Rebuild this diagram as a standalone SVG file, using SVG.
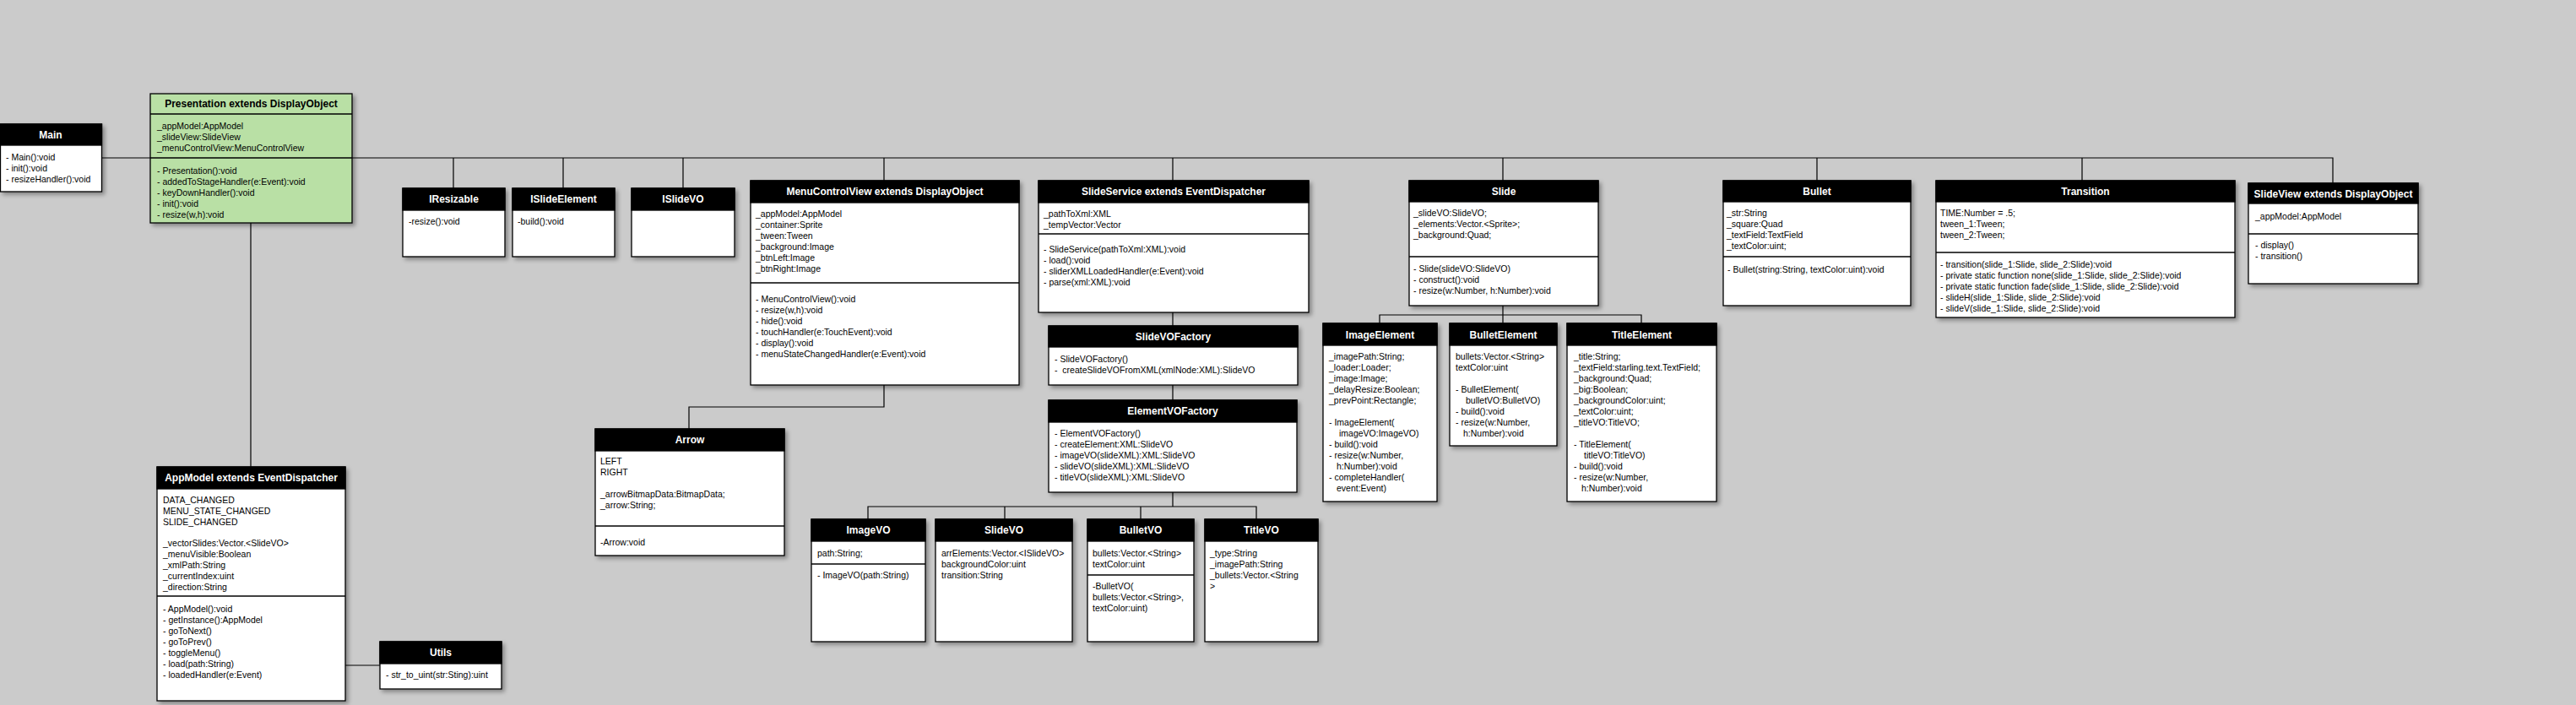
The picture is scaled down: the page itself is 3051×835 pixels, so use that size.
<svg xmlns="http://www.w3.org/2000/svg" width="3051" height="835" viewBox="0 0 3051 835">
<defs>
<filter id="sh" x="-10%" y="-10%" width="130%" height="130%">
<feDropShadow dx="3" dy="3" stdDeviation="2.5" flood-color="#000" flood-opacity="0.35"/>
</filter>
</defs>
<style>
.bg{fill:#cbcbcb}
.b{fill:#ffffff;stroke:#000;stroke-width:1.3}
.g{fill:#b9e0a5;stroke:#000;stroke-width:1.3}
.h{fill:#000;stroke:#000;stroke-width:1.3}
.s{stroke:#000;stroke-width:1.3}
.t{font-family:"Liberation Sans",Arial,sans-serif;font-size:12px;font-weight:bold;fill:#fff;text-anchor:middle}
.tg{font-family:"Liberation Sans",Arial,sans-serif;font-size:12px;font-weight:bold;fill:#000;text-anchor:middle}
.x{font-family:"Liberation Sans",Arial,sans-serif;font-size:10.5px;fill:#000}
.c{fill:none;stroke:#000;stroke-width:1.2}
</style>
<rect class="bg" x="0" y="0" width="3051" height="835"/>

<g id="connectors">
<path class="c" d="M120 187H178"/>
<path class="c" d="M417 187H2763V217"/>
<path class="c" d="M537 187V223M667 187V223M809 187V223M1047 187V214M1389 187V214M1780 187V214M2152 187V214M2466 187V214"/>
<path class="c" d="M297 264V553"/>
<path class="c" d="M409 788H450"/>
<path class="c" d="M1047 456V482H816V508"/>
<path class="c" d="M1389 370V386M1389 456V474M1389 583V600"/>
<path class="c" d="M1028 615V600H1488V615M1190 600V615M1351 600V615"/>
<path class="c" d="M1780 362V373M1634 383V373H1944V383M1780 373V383"/>
</g>

<g id="Main">
<rect class="b" x="0.5" y="147" width="120" height="80" filter="url(#sh)"/>
<rect class="h" x="0.5" y="147" width="120" height="25"/>
<text class="t" x="60" y="164">Main</text>
<text class="x"><tspan x="7" y="190">- Main():void</tspan><tspan x="7" dy="13">- init():void</tspan><tspan x="7" dy="13">- resizeHandler():void</tspan></text>
</g>

<g id="Presentation">
<rect class="g" x="178" y="111" width="239" height="153" filter="url(#sh)"/>
<line class="s" x1="178" y1="135" x2="417" y2="135"/>
<line class="s" x1="178" y1="187" x2="417" y2="187"/>
<text class="tg" x="297.5" y="127">Presentation extends DisplayObject</text>
<text class="x"><tspan x="186" y="153">_appModel:AppModel</tspan><tspan x="186" dy="13">_slideView:SlideView</tspan><tspan x="186" dy="13">_menuControlView:MenuControlView</tspan></text>
<text class="x"><tspan x="186" y="206">- Presentation():void</tspan><tspan x="186" dy="13">- addedToStageHandler(e:Event):void</tspan><tspan x="186" dy="13">- keyDownHandler():void</tspan><tspan x="186" dy="13">- init():void</tspan><tspan x="186" dy="13">- resize(w,h):void</tspan></text>
</g>

<g id="AppModel">
<rect class="b" x="186" y="553" width="223" height="277" filter="url(#sh)"/>
<rect class="h" x="186" y="553" width="223" height="26"/>
<line class="s" x1="186" y1="706" x2="409" y2="706"/>
<text class="t" x="297.5" y="570">AppModel extends EventDispatcher</text>
<text class="x"><tspan x="193" y="596">DATA_CHANGED</tspan><tspan x="193" dy="13">MENU_STATE_CHANGED</tspan><tspan x="193" dy="13">SLIDE_CHANGED</tspan><tspan x="193" dy="25">_vectorSlides:Vector.&lt;SlideVO&gt;</tspan><tspan x="193" dy="13">_menuVisible:Boolean</tspan><tspan x="193" dy="13">_xmlPath:String</tspan><tspan x="193" dy="13">_currentIndex:uint</tspan><tspan x="193" dy="13">_direction:String</tspan></text>
<text class="x"><tspan x="193" y="725">- AppModel():void</tspan><tspan x="193" dy="13">- getInstance():AppModel</tspan><tspan x="193" dy="13">- goToNext()</tspan><tspan x="193" dy="13">- goToPrev()</tspan><tspan x="193" dy="13">- toggleMenu()</tspan><tspan x="193" dy="13">- load(path:String)</tspan><tspan x="193" dy="13">- loadedHandler(e:Event)</tspan></text>
</g>

<g id="Utils">
<rect class="b" x="450" y="760" width="144" height="56" filter="url(#sh)"/>
<rect class="h" x="450" y="760" width="144" height="26"/>
<text class="t" x="522" y="777">Utils</text>
<text class="x" x="457" y="803">- str_to_uint(str:Sting):uint</text>
</g>

<g id="IResizable">
<rect class="b" x="477" y="223" width="121" height="81" filter="url(#sh)"/>
<rect class="h" x="477" y="223" width="121" height="26"/>
<text class="t" x="537.5" y="240">IResizable</text>
<text class="x" x="484" y="266">-resize():void</text>
</g>

<g id="ISlideElement">
<rect class="b" x="607" y="223" width="121" height="81" filter="url(#sh)"/>
<rect class="h" x="607" y="223" width="121" height="26"/>
<text class="t" x="667.5" y="240">ISlideElement</text>
<text class="x" x="613" y="266">-build():void</text>
</g>

<g id="ISlideVO">
<rect class="b" x="748" y="223" width="122" height="81" filter="url(#sh)"/>
<rect class="h" x="748" y="223" width="122" height="26"/>
<text class="t" x="809" y="240">ISlideVO</text>
</g>

<g id="MenuControlView">
<rect class="b" x="889" y="214" width="318" height="242" filter="url(#sh)"/>
<rect class="h" x="889" y="214" width="318" height="26"/>
<line class="s" x1="889" y1="335" x2="1207" y2="335"/>
<text class="t" x="1048" y="231">MenuControlView extends DisplayObject</text>
<text class="x"><tspan x="895" y="257">_appModel:AppModel</tspan><tspan x="895" dy="13">_container:Sprite</tspan><tspan x="895" dy="13">_tween:Tween</tspan><tspan x="895" dy="13">_background:Image</tspan><tspan x="895" dy="13">_btnLeft:Image</tspan><tspan x="895" dy="13">_btnRight:Image</tspan></text>
<text class="x"><tspan x="895" y="358">- MenuControlView():void</tspan><tspan x="895" dy="13">- resize(w,h):void</tspan><tspan x="895" dy="13">- hide():void</tspan><tspan x="895" dy="13">- touchHandler(e:TouchEvent):void</tspan><tspan x="895" dy="13">- display():void</tspan><tspan x="895" dy="13">- menuStateChangedHandler(e:Event):void</tspan></text>
</g>

<g id="Arrow">
<rect class="b" x="705" y="508" width="224" height="150" filter="url(#sh)"/>
<rect class="h" x="705" y="508" width="224" height="26"/>
<line class="s" x1="705" y1="623" x2="929" y2="623"/>
<text class="t" x="817" y="525">Arrow</text>
<text class="x"><tspan x="711" y="550">LEFT</tspan><tspan x="711" dy="13">RIGHT</tspan><tspan x="711" dy="26">_arrowBitmapData:BitmapData;</tspan><tspan x="711" dy="13">_arrow:String;</tspan></text>
<text class="x" x="711" y="646">-Arrow:void</text>
</g>

<g id="SlideService">
<rect class="b" x="1230" y="214" width="320" height="156" filter="url(#sh)"/>
<rect class="h" x="1230" y="214" width="320" height="26"/>
<line class="s" x1="1230" y1="277" x2="1550" y2="277"/>
<text class="t" x="1390" y="231">SlideService extends EventDispatcher</text>
<text class="x"><tspan x="1236" y="257">_pathToXml:XML</tspan><tspan x="1236" dy="13">_tempVector:Vector</tspan></text>
<text class="x"><tspan x="1236" y="299">- SlideService(pathToXml:XML):void</tspan><tspan x="1236" dy="13">- load():void</tspan><tspan x="1236" dy="13">- sliderXMLLoadedHandler(e:Event):void</tspan><tspan x="1236" dy="13">- parse(xml:XML):void</tspan></text>
</g>

<g id="SlideVOFactory">
<rect class="b" x="1242" y="386" width="295" height="70" filter="url(#sh)"/>
<rect class="h" x="1242" y="386" width="295" height="25"/>
<text class="t" x="1389.5" y="403">SlideVOFactory</text>
<text class="x"><tspan x="1249" y="429">- SlideVOFactory()</tspan><tspan x="1249" dy="13" xml:space="preserve">-  createSlideVOFromXML(xmlNode:XML):SlideVO</tspan></text>
</g>

<g id="ElementVOFactory">
<rect class="b" x="1242" y="474" width="294" height="109" filter="url(#sh)"/>
<rect class="h" x="1242" y="474" width="294" height="26"/>
<text class="t" x="1389" y="491">ElementVOFactory</text>
<text class="x"><tspan x="1249" y="517">- ElementVOFactory()</tspan><tspan x="1249" dy="13">- createElement:XML:SlideVO</tspan><tspan x="1249" dy="13">- imageVO(slideXML):XML:SlideVO</tspan><tspan x="1249" dy="13">- slideVO(slideXML):XML:SlideVO</tspan><tspan x="1249" dy="13">- titleVO(slideXML):XML:SlideVO</tspan></text>
</g>

<g id="ImageVO">
<rect class="b" x="961" y="615" width="135" height="145" filter="url(#sh)"/>
<rect class="h" x="961" y="615" width="135" height="26"/>
<line class="s" x1="961" y1="668" x2="1096" y2="668"/>
<text class="t" x="1028.5" y="632">ImageVO</text>
<text class="x" x="968" y="659">path:String;</text>
<text class="x" x="968" y="685">- ImageVO(path:String)</text>
</g>

<g id="SlideVO">
<rect class="b" x="1108" y="615" width="162" height="145" filter="url(#sh)"/>
<rect class="h" x="1108" y="615" width="162" height="26"/>
<text class="t" x="1189" y="632">SlideVO</text>
<text class="x"><tspan x="1115" y="659">arrElements:Vector.&lt;ISlideVO&gt;</tspan><tspan x="1115" dy="13">backgroundColor:uint</tspan><tspan x="1115" dy="13">transition:String</tspan></text>
</g>

<g id="BulletVO">
<rect class="b" x="1288" y="615" width="126" height="145" filter="url(#sh)"/>
<rect class="h" x="1288" y="615" width="126" height="26"/>
<line class="s" x1="1288" y1="681" x2="1414" y2="681"/>
<text class="t" x="1351" y="632">BulletVO</text>
<text class="x"><tspan x="1294" y="659">bullets:Vector.&lt;String&gt;</tspan><tspan x="1294" dy="13">textColor:uint</tspan></text>
<text class="x"><tspan x="1294" y="698">-BulletVO(</tspan><tspan x="1294" dy="13">bullets:Vector.&lt;String&gt;,</tspan><tspan x="1294" dy="13">textColor:uint)</tspan></text>
</g>

<g id="TitleVO">
<rect class="b" x="1427" y="615" width="134" height="145" filter="url(#sh)"/>
<rect class="h" x="1427" y="615" width="134" height="26"/>
<text class="t" x="1494" y="632">TitleVO</text>
<text class="x"><tspan x="1433" y="659">_type:String</tspan><tspan x="1433" dy="13">_imagePath:String</tspan><tspan x="1433" dy="13">_bullets:Vector.&lt;String</tspan><tspan x="1433" dy="13">&gt;</tspan></text>
</g>

<g id="Slide">
<rect class="b" x="1669" y="214" width="224" height="148" filter="url(#sh)"/>
<rect class="h" x="1669" y="214" width="224" height="25"/>
<line class="s" x1="1669" y1="304" x2="1893" y2="304"/>
<text class="t" x="1781" y="231">Slide</text>
<text class="x"><tspan x="1674" y="256">_slideVO:SlideVO;</tspan><tspan x="1674" dy="13">_elements:Vector.&lt;Sprite&gt;;</tspan><tspan x="1674" dy="13">_background:Quad;</tspan></text>
<text class="x"><tspan x="1674" y="322">- Slide(slideVO:SlideVO)</tspan><tspan x="1674" dy="13">- construct():void</tspan><tspan x="1674" dy="13">- resize(w:Number, h:Number):void</tspan></text>
</g>

<g id="ImageElement">
<rect class="b" x="1567" y="383" width="135" height="211" filter="url(#sh)"/>
<rect class="h" x="1567" y="383" width="135" height="26"/>
<text class="t" x="1634.5" y="401">ImageElement</text>
<text class="x"><tspan x="1574" y="426">_imagePath:String;</tspan><tspan x="1574" dy="13">_loader:Loader;</tspan><tspan x="1574" dy="13">_image:Image;</tspan><tspan x="1574" dy="13">_delayResize:Boolean;</tspan><tspan x="1574" dy="13">_prevPoint:Rectangle;</tspan><tspan x="1574" dy="26">- ImageElement(</tspan><tspan x="1586" dy="13">imageVO:ImageVO)</tspan><tspan x="1574" dy="13">- build():void</tspan><tspan x="1574" dy="13">- resize(w:Number,</tspan><tspan x="1583" dy="13">h:Number):void</tspan><tspan x="1574" dy="13">- completeHandler(</tspan><tspan x="1583" dy="13">event:Event)</tspan></text>
</g>

<g id="BulletElement">
<rect class="b" x="1717" y="383" width="127" height="145" filter="url(#sh)"/>
<rect class="h" x="1717" y="383" width="127" height="26"/>
<text class="t" x="1780.5" y="401">BulletElement</text>
<text class="x"><tspan x="1724" y="426">bullets:Vector.&lt;String&gt;</tspan><tspan x="1724" dy="13">textColor:uint</tspan><tspan x="1724" dy="26">- BulletElement(</tspan><tspan x="1736" dy="13">bulletVO:BulletVO)</tspan><tspan x="1724" dy="13">- build():void</tspan><tspan x="1724" dy="13">- resize(w:Number,</tspan><tspan x="1733" dy="13">h:Number):void</tspan></text>
</g>

<g id="TitleElement">
<rect class="b" x="1856" y="383" width="177" height="211" filter="url(#sh)"/>
<rect class="h" x="1856" y="383" width="177" height="26"/>
<text class="t" x="1944.5" y="401">TitleElement</text>
<text class="x"><tspan x="1864" y="426">_title:String;</tspan><tspan x="1864" dy="13">_textField:starling.text.TextField;</tspan><tspan x="1864" dy="13">_background:Quad;</tspan><tspan x="1864" dy="13">_big:Boolean;</tspan><tspan x="1864" dy="13">_backgroundColor:uint;</tspan><tspan x="1864" dy="13">_textColor:uint;</tspan><tspan x="1864" dy="13">_titleVO:TitleVO;</tspan><tspan x="1864" dy="26">- TitleElement(</tspan><tspan x="1876" dy="13">titleVO:TitleVO)</tspan><tspan x="1864" dy="13">- build():void</tspan><tspan x="1864" dy="13">- resize(w:Number,</tspan><tspan x="1873" dy="13">h:Number):void</tspan></text>
</g>

<g id="Bullet">
<rect class="b" x="2041" y="214" width="222" height="148" filter="url(#sh)"/>
<rect class="h" x="2041" y="214" width="222" height="25"/>
<line class="s" x1="2041" y1="304" x2="2263" y2="304"/>
<text class="t" x="2152" y="231">Bullet</text>
<text class="x"><tspan x="2045" y="256">_str:String</tspan><tspan x="2045" dy="13">_square:Quad</tspan><tspan x="2045" dy="13">_textField:TextField</tspan><tspan x="2045" dy="13">_textColor:uint;</tspan></text>
<text class="x" x="2046" y="323">- Bullet(string:String, textColor:uint):void</text>
</g>

<g id="Transition">
<rect class="b" x="2293" y="214" width="354" height="162" filter="url(#sh)"/>
<rect class="h" x="2293" y="214" width="354" height="25"/>
<line class="s" x1="2293" y1="299" x2="2647" y2="299"/>
<text class="t" x="2470" y="231">Transition</text>
<text class="x"><tspan x="2298" y="256">TIME:Number = .5;</tspan><tspan x="2298" dy="13">tween_1:Tween;</tspan><tspan x="2298" dy="13">tween_2:Tween;</tspan></text>
<text class="x"><tspan x="2298" y="317">- transition(slide_1:Slide, slide_2:Slide):void</tspan><tspan x="2298" dy="13">- private static function none(slide_1:Slide, slide_2:Slide):void</tspan><tspan x="2298" dy="13">- private static function fade(slide_1:Slide, slide_2:Slide):void</tspan><tspan x="2298" dy="13">- slideH(slide_1:Slide, slide_2:Slide):void</tspan><tspan x="2298" dy="13">- slideV(slide_1:Slide, slide_2:Slide):void</tspan></text>
</g>

<g id="SlideView">
<rect class="b" x="2663" y="217" width="201" height="119" filter="url(#sh)"/>
<rect class="h" x="2663" y="217" width="201" height="24"/>
<line class="s" x1="2663" y1="277" x2="2864" y2="277"/>
<text class="t" x="2763.5" y="234">SlideView extends DisplayObject</text>
<text class="x" x="2671" y="260">_appModel:AppModel</text>
<text class="x"><tspan x="2671" y="294">- display()</tspan><tspan x="2671" dy="13">- transition()</tspan></text>
</g>
</svg>
